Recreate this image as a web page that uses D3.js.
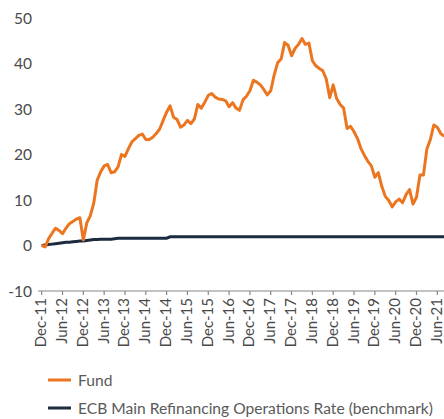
<!DOCTYPE html>
<html>
<head>
<meta charset="utf-8">
<script src="https://cdn.jsdelivr.net/npm/d3@7"></script>
<style>
  body { margin: 0; background: #fff; }
  svg { display: block; font-family: Lato, "Open Sans", sans-serif; }
  .tick_label { fill: #4a4a4a; }
  .legend_text { fill: #5a5a5a; }
</style>
</head>
<body>
<svg id="chart" width="444" height="419"></svg>
<script>
// monthly values, Dec-11 .. Aug-21
var fundValues = [
    0, -0.3, 1.5, 2.7, 3.8, 3.3, 2.6, 3.8, 4.8, 5.3, 5.8, 6.1,
    1.2, 5.0, 6.5, 9.3, 14.4, 16.2, 17.5, 17.8, 16.0, 16.2, 17.3, 20.0,
    19.6, 21.3, 22.8, 23.5, 24.2, 24.5, 23.3, 23.3, 23.8, 24.6, 25.6, 27.5,
    29.3, 30.7, 28.2, 27.7, 26.0, 26.5, 27.5, 26.8, 27.8, 31.0, 30.2, 31.5,
    33.0, 33.4, 32.6, 32.2, 32.1, 31.8, 30.5, 31.4, 30.2, 29.7, 32.0, 32.8,
    34.0, 36.3, 35.9, 35.3, 34.3, 33.1, 34.0, 37.5, 40.2, 41.0, 44.6, 44.0,
    41.7, 43.3, 44.2, 45.5, 44.2, 44.5, 40.6, 39.5, 38.9, 38.4, 36.6, 32.5,
    35.3, 32.3, 31.0, 30.2, 25.7, 26.2, 25.0, 23.5, 21.3, 19.8, 18.5, 17.5,
    15.0, 16.0, 13.0, 10.8, 9.9, 8.5, 9.6, 10.2, 9.4, 11.2, 12.3, 9.1,
    10.6, 15.5, 15.5, 21.2, 23.3, 26.5, 26.0, 24.6, 24.0
];
var benchmarkValues = [
    0, 0.1, 0.2, 0.3, 0.4, 0.5, 0.6, 0.7, 0.7, 0.8, 0.9, 1.0,
    1.0, 1.1, 1.2, 1.3, 1.3, 1.35, 1.4, 1.4, 1.4, 1.5, 1.6, 1.6,
    1.6, 1.6, 1.6, 1.6, 1.6, 1.6, 1.6, 1.6, 1.6, 1.6, 1.6, 1.6,
    1.6, 1.9, 1.9, 1.9, 1.9, 1.9, 1.9, 1.9, 1.9, 1.9, 1.9, 1.9,
    1.9, 1.9, 1.9, 1.9, 1.9, 1.9, 1.9, 1.9, 1.9, 1.9, 1.9, 1.9,
    1.9, 1.9, 1.9, 1.9, 1.9, 1.9, 1.9, 1.9, 1.9, 1.9, 1.9, 1.9,
    1.9, 1.9, 1.9, 1.9, 1.9, 1.9, 1.9, 1.9, 1.9, 1.9, 1.9, 1.9,
    1.9, 1.9, 1.9, 1.9, 1.9, 1.9, 1.9, 1.9, 1.9, 1.9, 1.9, 1.9,
    1.9, 1.9, 1.9, 1.9, 1.9, 1.9, 1.9, 1.9, 1.9, 1.9, 1.9, 1.9,
    1.9, 1.9, 1.9, 1.9, 1.9, 1.9, 1.9, 1.9, 1.9
];
var tickLabels = ["Dec-11", "Jun-12", "Dec-12", "Jun-13", "Dec-13", "Jun-14", "Dec-14",
    "Jun-15", "Dec-15", "Jun-16", "Dec-16", "Jun-17", "Dec-17", "Jun-18", "Dec-18",
    "Jun-19", "Dec-19", "Jun-20", "Dec-20", "Jun-21"];
var yTicks = [-10, 0, 10, 20, 30, 40, 50];
var seriesNames = ["Fund", "ECB Main Refinancing Operations Rate (benchmark)"];
var seriesColors = ["#ec7520", "#1c2b3f"];

var svg = d3.select("#chart");
const margins = {top: 18, bottom: 291, left: 38, right: 444};

var xScale = d3.scaleLinear()
    .domain([0, (tickLabels.length - 1) * 6])
    .range([41.7, 437.3]);
var yScale = d3.scaleLinear()
    .domain([-10, 50])
    .range([margins.bottom, margins.top]);

// y labels, no axis line
svg.append("g").selectAll("text")
    .data(yTicks).enter()
    .append("text")
    .attr("class", "tick_label")
    .attr("x", 32)
    .attr("y", d => yScale(d))
    .attr("dy", "0.36em")
    .attr("text-anchor", "end")
    .attr("font-size", 15.5)
    .text(d => d);

// x axis
var xAxis = svg.append("g");
xAxis.append("line")
    .attr("x1", margins.left).attr("x2", margins.right)
    .attr("y1", margins.bottom).attr("y2", margins.bottom)
    .attr("stroke", "#888").attr("stroke-width", 1.2);
xAxis.selectAll("line.tick")
    .data(tickLabels).enter()
    .append("line").classed("tick", true)
    .attr("x1", (d, i) => xScale(i * 6)).attr("x2", (d, i) => xScale(i * 6))
    .attr("y1", margins.bottom).attr("y2", margins.bottom + 4)
    .attr("stroke", "#888").attr("stroke-width", 1.2);
xAxis.selectAll("text")
    .data(tickLabels).enter()
    .append("text")
    .attr("class", "tick_label")
    .attr("font-size", 15)
    .attr("text-anchor", "end")
    .attr("transform", (d, i) => "translate(" + (xScale(i * 6) + 4.5) + "," + (margins.bottom + 7) + ") rotate(-90)")
    .text(d => d);

var line = d3.line()
    .x((d, i) => xScale(i))
    .y(d => yScale(d));

svg.append("path")
    .datum(benchmarkValues)
    .attr("fill", "none")
    .attr("stroke", seriesColors[1])
    .attr("stroke-width", 3)
    .attr("d", line);
svg.append("path")
    .datum(fundValues)
    .attr("fill", "none")
    .attr("stroke", seriesColors[0])
    .attr("stroke-width", 3)
    .attr("stroke-linejoin", "round")
    .attr("d", line);

// legend
var legend = svg.append("g").selectAll("g")
    .data(seriesNames).enter()
    .append("g")
    .attr("transform", (d, i) => "translate(48," + (380 + i * 28) + ")");
legend.append("line")
    .attr("x1", 0).attr("x2", 23)
    .attr("stroke", (d, i) => seriesColors[i])
    .attr("stroke-width", 3);
legend.append("text")
    .attr("class", "legend_text")
    .attr("x", 30)
    .attr("dy", "0.36em")
    .attr("font-size", 15.6)
    .text(d => d);
</script>
</body>
</html>
